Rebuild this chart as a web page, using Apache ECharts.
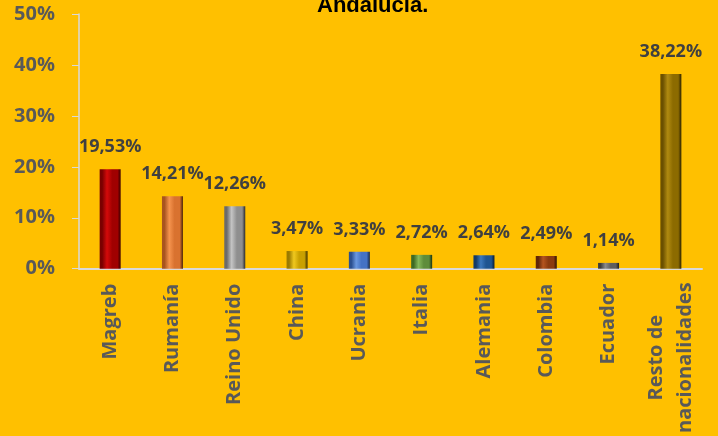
<!DOCTYPE html>
<html><head><meta charset="utf-8">
<script src="https://cdn.jsdelivr.net/npm/echarts@6/dist/echarts.min.js"></script>
<style>html,body{margin:0;padding:0;background:#FFC000;}#c{width:718px;height:436px;}</style>
</head><body><div id="c"></div>
<script>
const categories = ['Magreb','Rumanía','Reino Unido','China','Ucrania','Italia','Alemania','Colombia','Ecuador','Resto de\nnacionalidades'];
const values = [19.53, 14.21, 12.26, 3.47, 3.33, 2.72, 2.64, 2.49, 1.14, 38.22];
const barColors = [
  ['#7a0000','#d40a0a','#a00000','#3a0000'],
  ['#a8541f','#f5934e','#d9722f','#4a2208'],
  ['#6b6b6b','#c4c4c4','#8f8f8f','#2a2a2a'],
  ['#9a7a00','#f0c81e','#c9a000','#3a2e00'],
  ['#2b4f8f','#6a97e0','#4472c4','#14264a'],
  ['#3f6a24','#86b85a','#5e8c3a','#1c3310'],
  ['#143a66','#3c78bc','#1f5591','#081a30'],
  ['#5e2508','#b5541f','#8b3a0f','#2a1003'],
  ['#3c3c3c','#8a8a8a','#5e5e5e','#1c1c1c'],
  ['#6b5000','#b08a10','#8c6b00','#2e2300']
];
const yTicks = [0,10,20,30,40,50];

function grad(c){
  return new echarts.graphic.LinearGradient(0,0,1,0,[
    {offset:0,color:c[0]},{offset:0.12,color:c[0]},{offset:0.35,color:c[1]},{offset:0.6,color:c[2]},{offset:0.85,color:c[2]},{offset:1,color:c[3]}
  ]);
}

const chart = echarts.init(document.getElementById('c'));
chart.setOption({
  backgroundColor:'#FFC000',
  animation:false,
  title:{text:'Andalucía.',left:312,top:-10,textStyle:{fontFamily:'Liberation Sans',fontWeight:'bold',fontSize:22,color:'#000'}},
  grid:{left:79,right:16,top:14,bottom:167},
  xAxis:{type:'category',data:categories,
    axisLine:{lineStyle:{color:'#D9D9D9',width:2}},axisTick:{show:false},
    axisLabel:{rotate:90,margin:15,interval:0,color:'#595959',fontFamily:'Open Sans',fontWeight:'bold',fontSize:20,
      formatter:function(v){ if(v.indexOf('\n')>=0){ return v.split('\n').map(s=>'{c|'+s+'}').join('\n'); } return v; },
      rich:{c:{width:148,align:'center',color:'#595959',fontFamily:'Open Sans',fontWeight:'bold',fontSize:20,lineHeight:29}}
    }},
  yAxis:{type:'value',min:yTicks[0],max:yTicks[yTicks.length-1],interval:10,
    axisLine:{show:true,lineStyle:{color:'#D9D9D9',width:1.5}},
    axisTick:{show:true,length:7,lineStyle:{color:'#D9D9D9'}},
    splitLine:{show:false},
    axisLabel:{margin:24,color:'#595959',fontFamily:'Open Sans',fontWeight:'bold',fontSize:20,formatter:v=>v+'%'}},
  series:[{type:'bar',barWidth:21,
    data:values.map((v,i)=>({value:v,itemStyle:{color:grad(barColors[i])}})),
    label:{show:true,position:'top',distance:13,color:'#404040',fontFamily:'Open Sans',fontWeight:'bold',fontSize:18,
      formatter:p=>p.value.toFixed(2).replace('.',',')+'%'}
  }]
});
</script></body></html>
